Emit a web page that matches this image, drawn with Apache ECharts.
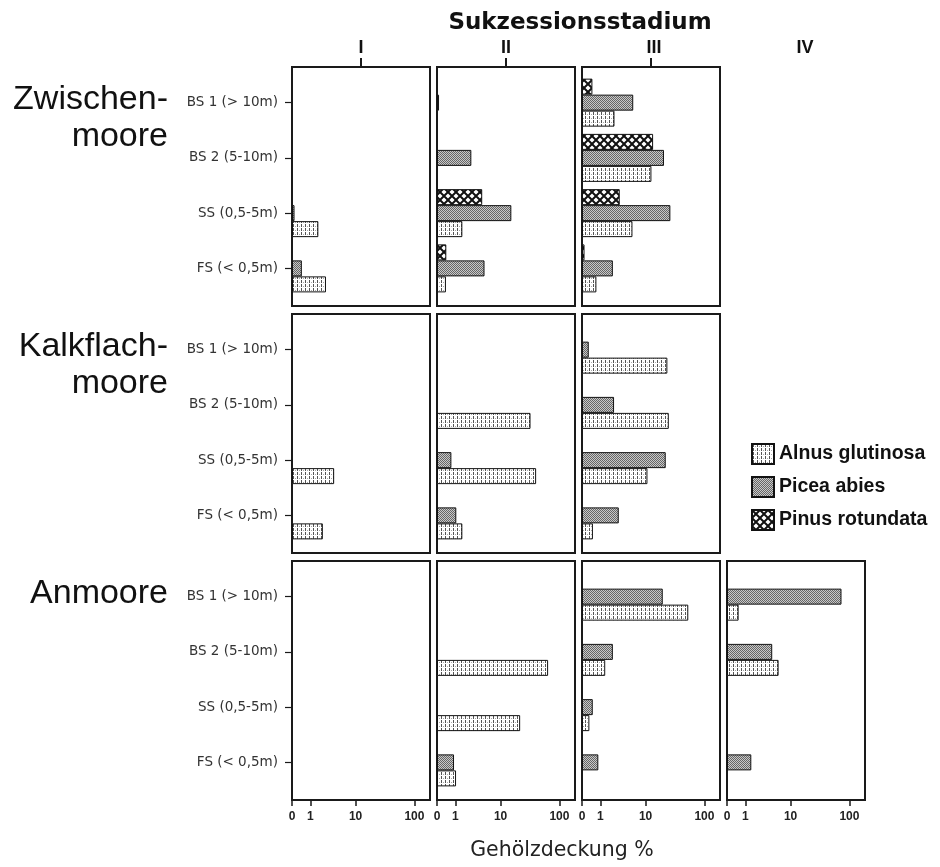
<!DOCTYPE html>
<html><head><meta charset="utf-8">
<script src="https://cdn.jsdelivr.net/npm/echarts@6/dist/echarts.min.js"></script>
<style>html,body{margin:0;padding:0;background:#fff}#chart{width:940px;height:867px}</style>
</head><body><div id="chart"></div>
<script>
// ---------- data ----------
const categories = ['BS 1 (> 10m)', 'BS 2 (5-10m)', 'SS (0,5-5m)', 'FS (< 0,5m)'];
const stages = ['I', 'II', 'III', 'IV'];
const moorTypes = ['Zwischen-\nmoore', 'Kalkflach-\nmoore', 'Anmoore'];
const speciesNames = ['Alnus glutinosa', 'Picea abies', 'Pinus rotundata'];
const tickValues = [0, 1, 10, 100];
const panelStages = [[0, 1, 2], [0, 1, 2], [0, 1, 2, 3]];

// Gehölzdeckung % per stage (I..IV), each [BS1, BS2, SS, FS]; null = no bar
const zwischenAlnus = [[null, null, 1.7, 2.6], [null, null, 1.6, 0.4], [2.4, 12.7, 5.7, 0.72], [null, null, null, null]];
const zwischenPicea = [[null, null, 0.1, 0.45], [0.08, 2.65, 15.5, 5.0], [5.9, 21, 27, 2.2], [null, null, null, null]];
const zwischenPinus = [[null, null, null, null], [null, null, 4.5, 0.42], [0.48, 13.6, 3.15, 0.1], [null, null, null, null]];
const kalkAlnus = [[null, null, 3.9, 2.2], [null, 33, 41, 1.6], [24, 25.4, 10.8, 0.51], [null, null, null, null]];
const kalkPicea = [[null, null, null, null], [null, null, 0.72, 1.07], [0.29, 2.35, 22.5, 3.0], [null, null, null, null]];
const kalkPinus = [[null, null, null, null], [null, null, null, null], [null, null, null, null], [null, null, null, null]];
const anAlnus = [[null, null, null, null], [null, 65, 22, 1.05], [54, 1.4, 0.32, null], [0.55, 6.0, null, null]];
const anPicea = [[null, null, null, null], [null, null, null, 0.9], [20, 2.2, 0.5, 0.85], [74, 4.5, null, 1.5]];
const anPinus = [[null, null, null, null], [null, null, null, null], [null, null, null, null], [null, null, null, null]];

// ---------- layout ----------
const colLeft = [292, 437, 582, 727];
const colWidth = 138;
const rowTop = [67, 314, 561];
const rowHeight = 239;
const innerTop = 8, innerBottom = 10;
const axisMax = 2.26;
const tf = v => (v == null ? null : Math.log10(v + 1));
const tickPos = tickValues.map(v => Math.log10(v + 1));

const rowSeries = [
  [zwischenPinus, zwischenPicea, zwischenAlnus],
  [kalkPinus, kalkPicea, kalkAlnus],
  [anPinus, anPicea, anAlnus]
];
const seriesSpecies = [2, 1, 0]; // Pinus top, Picea middle, Alnus bottom

function makePattern(kind) {
  const c = document.createElement('canvas');
  let ctx;
  if (kind === 0) { // Alnus: white with dotted vertical dashes
    c.width = 4; c.height = 4; ctx = c.getContext('2d');
    ctx.fillStyle = '#fff'; ctx.fillRect(0, 0, 4, 4);
    ctx.fillStyle = '#555'; ctx.fillRect(1, 0, 1, 3);
    ctx.fillStyle = '#aaa'; ctx.fillRect(3, 2, 1, 1);
  } else if (kind === 1) { // Picea: grey stipple
    c.width = 2; c.height = 2; ctx = c.getContext('2d');
    ctx.fillStyle = '#c8c8c8'; ctx.fillRect(0, 0, 2, 2);
    ctx.fillStyle = '#666'; ctx.fillRect(0, 0, 1, 1); ctx.fillRect(1, 1, 1, 1);
  } else { // Pinus: cross hatch
    c.width = 8; c.height = 8; ctx = c.getContext('2d');
    ctx.fillStyle = '#fff'; ctx.fillRect(0, 0, 8, 8);
    ctx.strokeStyle = '#111'; ctx.lineWidth = 2;
    ctx.beginPath();
    ctx.moveTo(-1, -1); ctx.lineTo(9, 9);
    ctx.moveTo(9, -1); ctx.lineTo(-1, 9);
    ctx.stroke();
  }
  return { image: c, repeat: 'repeat' };
}
const patterns = [makePattern(0), makePattern(1), makePattern(2)];

const grids = [], xAxes = [], yAxes = [], series = [];
rowSeries.forEach((rowArr, r) => {
  const isBottom = r === rowSeries.length - 1;
  panelStages[r].forEach(c => {
    // frame grid
    const fi = grids.length;
    grids.push({ left: colLeft[c], top: rowTop[r], width: colWidth, height: rowHeight,
      show: true, borderColor: '#1a1a1a', borderWidth: 2, backgroundColor: 'transparent' });
    xAxes.push({ gridIndex: fi, type: 'value', min: 0, max: axisMax,
      splitLine: { show: false }, axisLine: { show: false },
      axisTick: isBottom ? { show: true, customValues: tickPos, length: 6, lineStyle: { color: '#1a1a1a', width: 1.5 } } : { show: false },
      axisLabel: isBottom ? { show: true, customValues: tickPos, margin: 11,
        formatter: v => String(Math.round(Math.pow(10, v) - 1)),
        fontFamily: 'Liberation Sans', fontWeight: 'bold', fontSize: 12, color: '#222' } : { show: false } });
    yAxes.push({ gridIndex: fi, type: 'value', show: false });
    // data grid
    const di = grids.length;
    grids.push({ left: colLeft[c], top: rowTop[r] + innerTop, width: colWidth,
      height: rowHeight - innerTop - innerBottom });
    xAxes.push({ gridIndex: di, type: 'value', min: 0, max: axisMax, show: false });
    yAxes.push({ gridIndex: di, type: 'category', inverse: true, data: categories,
      axisLine: { show: true, lineStyle: { color: '#1a1a1a', width: 2 } },
      axisTick: { show: c === 0, alignWithLabel: true, length: 7, lineStyle: { color: '#1a1a1a', width: 1.2 } },
      axisLabel: { show: c === 0, fontFamily: 'DejaVu Sans', fontSize: 13.5, color: '#333', margin: 14 } });
    const axIdx = xAxes.length - 1;
    rowArr.forEach((arr, k) => {
      const sp = seriesSpecies[k];
      series.push({ type: 'bar', name: speciesNames[sp], xAxisIndex: axIdx, yAxisIndex: axIdx,
        data: arr[c].map(tf), barWidth: 16, barGap: '0%',
        itemStyle: { color: patterns[sp], borderColor: '#111', borderWidth: 1 },
        emphasis: { disabled: true }, animation: false });
    });
  });
});

// graphic texts
const graphics = [];
graphics.push({ type: 'text', x: 580, y: 23, style: { text: 'Sukzessionsstadium', align: 'center', verticalAlign: 'middle',
  font: 'bold 23px "DejaVu Sans"', fill: '#111' } });
const stageLabelX = [361, 506, 654, 805];
stages.forEach((s, c) => {
  const cx = colLeft[c] + colWidth / 2;
  graphics.push({ type: 'text', x: stageLabelX[c], y: 48, style: { text: s, align: 'center', verticalAlign: 'middle',
    font: 'bold 18px "Liberation Sans"', fill: '#111' } });
  if (c < 3) graphics.push({ type: 'line', shape: { x1: cx, y1: 58, x2: cx, y2: rowTop[0] }, style: { stroke: '#1a1a1a', lineWidth: 2 } });
});
moorTypes.forEach((m, r) => {
  const band = (rowHeight - innerTop - innerBottom) / categories.length;
  const y0 = rowTop[r] + innerTop + band / 2;
  graphics.push({ type: 'text', x: 168, y: y0 - 21.5, style: { text: m, align: 'right', verticalAlign: 'top',
    font: '34px "Liberation Sans"', lineHeight: 37, fill: '#111' } });
});
graphics.push({ type: 'text', x: 562, y: 851, style: { text: 'Gehölzdeckung %', align: 'center', verticalAlign: 'middle',
  font: '20.5px "DejaVu Sans"', fill: '#222' } });

const chart = echarts.init(document.getElementById('chart'), null, { renderer: 'canvas' });
chart.setOption({
  backgroundColor: '#fff',
  animation: false,
  grid: grids, xAxis: xAxes, yAxis: yAxes, series: series,
  legend: { data: speciesNames, orient: 'vertical', left: 751, top: 443, padding: 0, itemWidth: 22, itemHeight: 20, itemGap: 11,
    icon: 'rect', selectedMode: false,
    textStyle: { fontFamily: 'Liberation Sans', fontWeight: 'bold', fontSize: 19.5, color: '#111' } },
  graphic: graphics
});
</script></body></html>
